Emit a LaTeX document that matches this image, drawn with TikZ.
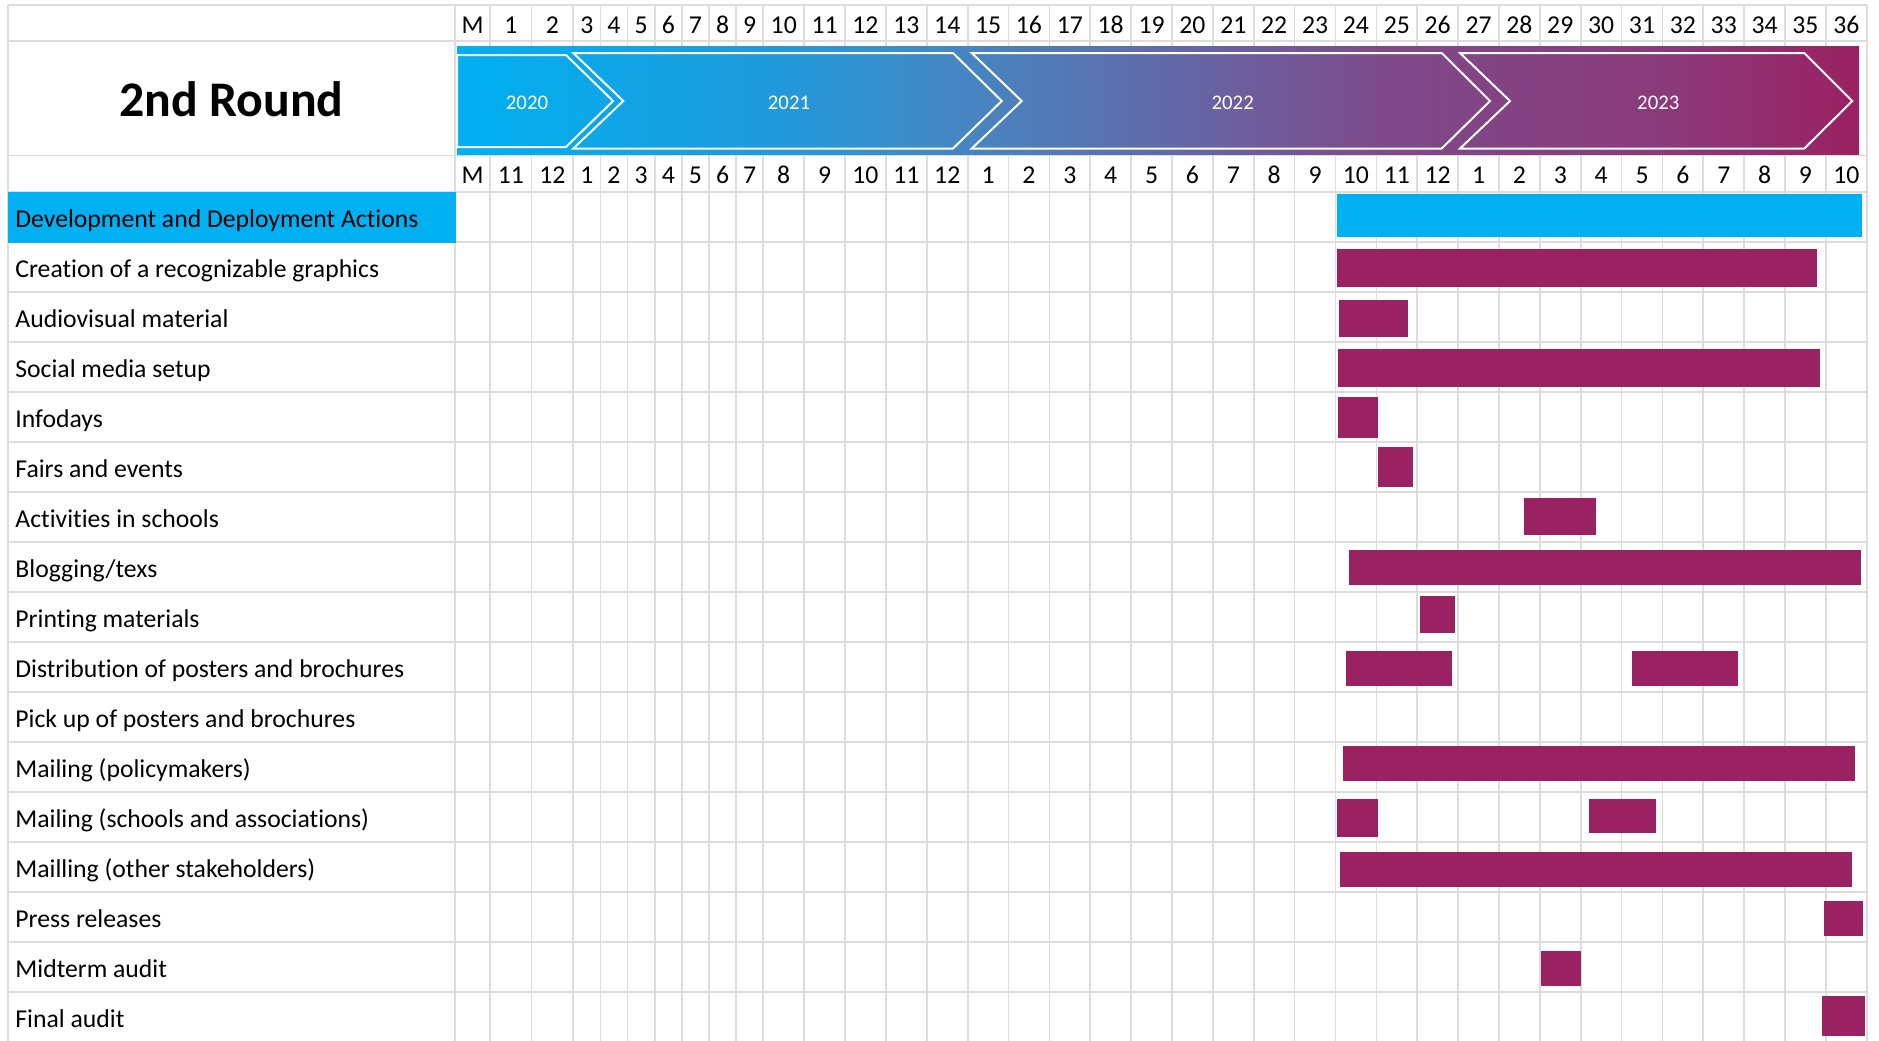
\documentclass[tikz,border=0pt]{standalone}
\usepackage{fontspec}
\setmainfont{Carlito}[Ligatures=NoCommon]
\definecolor{PlanCyan}{HTML}{00B0F0}
\definecolor{PlanPlum}{HTML}{9B2262}
\definecolor{PlanGrid}{HTML}{DCDCDC}
\definecolor{YrCyan}{RGB}{0,176,240}
\definecolor{YrSky}{RGB}{30,155,220}
\definecolor{YrSteel}{RGB}{65,138,198}
\definecolor{YrIndigo}{RGB}{105,98,162}
\definecolor{YrViolet}{RGB}{126,74,138}
\definecolor{YrPlum}{RGB}{138,58,122}
\definecolor{YrMagenta}{RGB}{155,33,98}
\pgfdeclarehorizontalshading{yearband}{100bp}{color(0bp)=(YrCyan); color(25bp)=(YrCyan); color(36bp)=(YrSky); color(42bp)=(YrSteel); color(52bp)=(YrIndigo); color(58bp)=(YrViolet); color(68bp)=(YrPlum); color(75bp)=(YrMagenta); color(100bp)=(YrMagenta)}
\tikzset{
  plangrid/.style={draw=PlanGrid,line width=0.85pt},
  taskbar/.style={fill=PlanPlum},
  leadbar/.style={fill=PlanCyan},
  tasklabel/.style={
    anchor=base west,
    inner sep=0pt,
    font=\fontsize{12.85}{15}\selectfont
  },
  colhead/.style={
    anchor=base,
    inner sep=0pt,
    font=\fontsize{12.85}{15}\selectfont
  },
  roundtitle/.style={
    anchor=base,
    inner sep=0pt,
    font=\fontsize{24.9}{28}\selectfont\bfseries
  },
  yearlabel/.style={
    anchor=base,
    inner sep=0pt,
    text=white,
    font=\fontsize{10.4}{12}\selectfont
  },
  yearchevron/.style={draw=white,line width=1pt,line join=miter}
}
\begin{document}
\begin{tikzpicture}[x=0.5pt,y=-0.5pt]
  \fill[white] (0,0) rectangle (1879,1040);
  \useasboundingbox (0,0) rectangle (1879,1040);
  \foreach \y in {5,41,155.5} \draw[plangrid] (8,\y) -- (1866.8,\y);
  \foreach \k in {0,...,16} \draw[plangrid] (8,{192+50*\k}) -- (1866.8,{192+50*\k});
  \draw[plangrid] (8,5) -- (8,1042);
  \draw[plangrid] (455,5) -- (455,1042);
  \foreach \pnum/\xa/\xb/\cnum [count=\i] in {M/455/490/M, 1/490/531.6/11, 2/531.6/573.3/12, 3/573.3/600.4/1, 4/600.4/627.6/2, 5/627.6/654.7/3, 6/654.7/681.9/4, 7/681.9/709/5, 8/709/736.1/6, 9/736.1/763.3/7, 10/763.3/804.2/8, 11/804.2/845/9, 12/845/885.9/10, 13/885.9/926.8/11, 14/926.8/967.7/12, 15/967.7/1008.5/1, 16/1008.5/1049.4/2, 17/1049.4/1090.3/3, 18/1090.3/1131.1/4, 19/1131.1/1172/5, 20/1172/1212.9/6, 21/1212.9/1253.7/7, 22/1253.7/1294.6/8, 23/1294.6/1335.5/9, 24/1335.5/1376.4/10, 25/1376.4/1417.2/11, 26/1417.2/1458.1/12, 27/1458.1/1499/1, 28/1499/1539.8/2, 29/1539.8/1580.7/3, 30/1580.7/1621.6/4, 31/1621.6/1662.4/5, 32/1662.4/1703.3/6, 33/1703.3/1744.2/7, 34/1744.2/1785/8, 35/1785/1825.9/9, 36/1825.9/1866.8/10} {
    \draw[plangrid] (\xb,5) -- (\xb,1042);
    \node[colhead] (pm-\i) at ({(\xa+\xb)/2},33) {\pnum};
    \node[colhead] (cm-\i) at ({(\xa+\xb)/2},183) {\cnum};
  }
  \fill[leadbar] (8,192) rectangle (456,242.5);
  \shade[shading=yearband] (457,46) rectangle (1859,154);
  \draw[yearchevron] (457,55) -- (566,55) -- (613,101) -- (566,147) -- (457,147) -- cycle;
  \draw[yearchevron] (573.3,53) -- (953,53) -- (1001.7,101) -- (953,148.5) -- (573.3,148.5) -- (623.3,101) -- cycle;
  \draw[yearchevron] (971.7,53) -- (1441.7,53) -- (1490,101) -- (1441.7,148.5) -- (971.7,148.5) -- (1021.7,101) -- cycle;
  \draw[yearchevron] (1460,53) -- (1804.3,53) -- (1852.3,101) -- (1804.3,148.5) -- (1460,148.5) -- (1510,101) -- cycle;
  \node[yearlabel] (y2020) at (527,109) {2020};
  \node[yearlabel] (y2021) at (789,109) {2021};
  \node[yearlabel] (y2022) at (1232.7,109) {2022};
  \node[yearlabel] (y2023) at (1658.3,109) {2023};
  \node[roundtitle] (round) at (231.5,116.7) {2nd Round};
  \foreach \task [count=\k from 0] in {Development and Deployment Actions, Creation of a recognizable graphics, Audiovisual material, Social media setup, Infodays, Fairs and events, Activities in schools, {Blogging/texs}, Printing materials, Distribution of posters and brochures, Pick up of posters and brochures, Mailing (policymakers), Mailing (schools and associations), Mailling (other stakeholders), Press releases, Midterm audit, Final audit}
    \node[tasklabel] (task-\k) at (15,{227+50*\k}) {\task};
  \fill[leadbar] (1337,194) rectangle (1862,236.7);
  \foreach \xa/\xb/\ya/\yb in {1337/1817/249/287, 1339/1407.5/300/337, 1337.5/1820/349/387, 1338/1378/397/437.7, 1378/1413/447/487, 1524/1596/498/535, 1349/1861/550/584.7, 1420/1455/596/633, 1346/1452/651/685.7, 1632/1738/651/685.7, 1343/1855/746/781, 1337/1378/799/837, 1589/1656/799/833, 1340/1851.6/852.3/887.3, 1824/1863/901.3/936.3, 1541/1581/951.3/986.3, 1822/1864.5/996.3/1036.3}
    \fill[taskbar] (\xa,\ya) rectangle (\xb,\yb);
\end{tikzpicture}
\end{document}
